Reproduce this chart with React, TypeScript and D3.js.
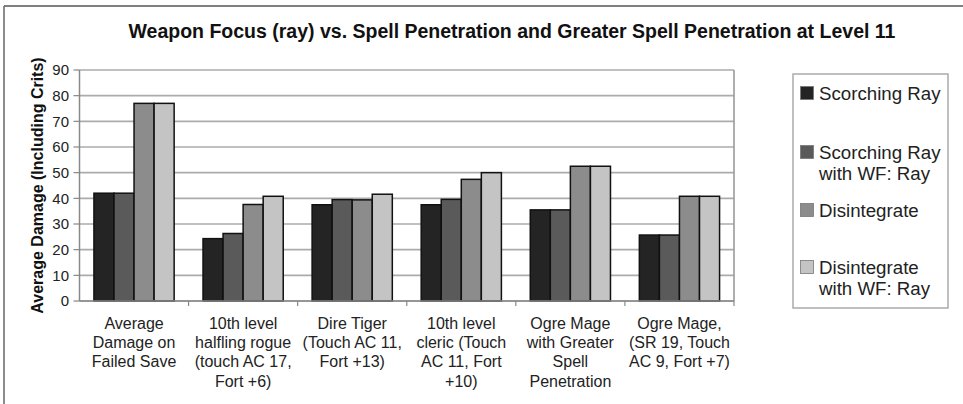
import React from "react";
import * as d3 from "d3";

const categories: string[][] = [
  ["Average", "Damage on", "Failed Save"],
  ["10th level", "halfling rogue", "(touch AC 17,", "Fort +6)"],
  ["Dire Tiger", "(Touch AC 11,", "Fort +13)"],
  ["10th level", "cleric (Touch", "AC 11, Fort", "+10)"],
  ["Ogre Mage", "with Greater", "Spell", "Penetration"],
  ["Ogre Mage,", "(SR 19, Touch", "AC 9, Fort +7)"],
];
const seriesNames: string[][] = [
  ["Scorching Ray"],
  ["Scorching Ray", "with WF: Ray"],
  ["Disintegrate"],
  ["Disintegrate", "with WF: Ray"],
];
const scorchingRay = [42, 24.3, 37.5, 37.5, 35.5, 25.7];
const scorchingRayWF = [42, 26.3, 39.5, 39.6, 35.5, 25.7];
const disintegrate = [77, 37.6, 39.4, 47.4, 52.5, 40.8];
const disintegrateWF = [77, 40.8, 41.6, 50.0, 52.5, 40.8];
const series = [scorchingRay, scorchingRayWF, disintegrate, disintegrateWF];
const yTicks = [0, 10, 20, 30, 40, 50, 60, 70, 80, 90];
const title =
  "Weapon Focus (ray) vs. Spell Penetration and Greater Spell Penetration at Level 11";
const yTitle = "Average Damage (Including Crits)";

const colors = ["#242424", "#5a5a5a", "#8c8c8c", "#c4c4c4"];
const FONT = "'Liberation Sans', Arial, Helvetica, sans-serif";

export default function App() {
  const W = 963;
  const H = 404;
  const left = 79.5;
  const right = 734;
  const top = 70;
  const bottom = 301;

  const x0 = d3
    .scaleBand<number>()
    .domain(categories.map((_, i) => i))
    .range([left, right])
    .paddingInner(0)
    .paddingOuter(0);
  const x1 = d3
    .scaleBand<number>()
    .domain(series.map((_, i) => i))
    .range([0, x0.bandwidth()])
    .paddingInner(0)
    .paddingOuter(0.72);
  const y = d3.scaleLinear().domain([0, 90]).range([bottom, top]);

  const legendY = [93, 152, 210, 267];

  return (
    <svg
      width={W}
      height={H}
      style={{ position: "absolute", left: 0, top: 0, background: "#fff" }}
      fontFamily={FONT}
    >
      <rect x={0} y={0} width={W} height={H} fill="#fff" />
      {/* outer frame */}
      <line x1={4} y1={6} x2={W} y2={6} stroke="#555" strokeWidth={1.5} />
      <line x1={4} y1={6} x2={4} y2={H} stroke="#666" strokeWidth={1.5} />

      <text
        x={512}
        y={38}
        textAnchor="middle"
        fontSize={19.5}
        fontWeight="bold"
        fill="#111"
      >
        {title}
      </text>

      {/* gridlines */}
      {yTicks.map((t) => (
        <line
          key={"g" + t}
          x1={left}
          x2={right}
          y1={y(t)}
          y2={y(t)}
          stroke="#ababab"
          strokeWidth={1.6}
        />
      ))}
      <line x1={right} x2={right} y1={top} y2={bottom} stroke="#9a9a9a" strokeWidth={1.6} />
      {/* y axis */}
      <line x1={left} x2={left} y1={top} y2={bottom} stroke="#888" strokeWidth={1.5} />
      {yTicks.map((t) => (
        <g key={"t" + t}>
          <line x1={left - 6} x2={left} y1={y(t)} y2={y(t)} stroke="#888" strokeWidth={1.2} />
          <text
            x={69}
            y={y(t)}
            dy="0.36em"
            textAnchor="end"
            fontSize={15}
            fill="#222"
          >
            {t}
          </text>
        </g>
      ))}
      <text
        transform={`translate(43,${(top + bottom) / 2}) rotate(-90)`}
        textAnchor="middle"
        fontSize={16}
        fontWeight="bold"
        fill="#111"
      >
        {yTitle}
      </text>

      {/* bars */}
      {categories.map((_, ci) => (
        <g key={"c" + ci} transform={`translate(${x0(ci)},0)`}>
          {series.map((s, si) => (
            <rect
              key={si}
              x={x1(si)}
              y={y(s[ci])}
              width={x1.bandwidth()}
              height={y(0) - y(s[ci])}
              fill={colors[si]}
              stroke="#111"
              strokeWidth={1.5}
            />
          ))}
        </g>
      ))}

      {/* x axis */}
      <line x1={left} x2={right} y1={bottom} y2={bottom} stroke="#888" strokeWidth={1.5} />
      {categories.map((_, ci) => (
        <line
          key={"xt" + ci}
          x1={(x0(ci) as number) + x0.bandwidth()}
          x2={(x0(ci) as number) + x0.bandwidth()}
          y1={bottom}
          y2={bottom + 5}
          stroke="#888"
          strokeWidth={1.2}
        />
      ))}
      {categories.map((lines, ci) => (
        <text
          key={"cl" + ci}
          x={(x0(ci) as number) + x0.bandwidth() / 2}
          y={329}
          textAnchor="middle"
          fontSize={16}
          fill="#222"
        >
          {lines.map((l, li) => (
            <tspan key={li} x={(x0(ci) as number) + x0.bandwidth() / 2} dy={li === 0 ? 0 : 19.2}>
              {l}
            </tspan>
          ))}
        </text>
      ))}

      {/* legend */}
      <rect x={793} y={74} width={155} height={234} fill="#fff" stroke="#aaa" strokeWidth={1.5} />
      {seriesNames.map((lines, si) => (
        <g key={"l" + si}>
          <rect
            x={800.5}
            y={legendY[si] - 6.5}
            width={13}
            height={13}
            fill={colors[si]}
            stroke="#777"
            strokeWidth={0.8}
          />
          <text x={819} y={legendY[si]} dy="0.36em" fontSize={18.7} fill="#222">
            {lines.map((l, li) => (
              <tspan key={li} x={819} dy={li === 0 ? "0.36em" : 21}>
                {l}
              </tspan>
            ))}
          </text>
        </g>
      ))}
    </svg>
  );
}
